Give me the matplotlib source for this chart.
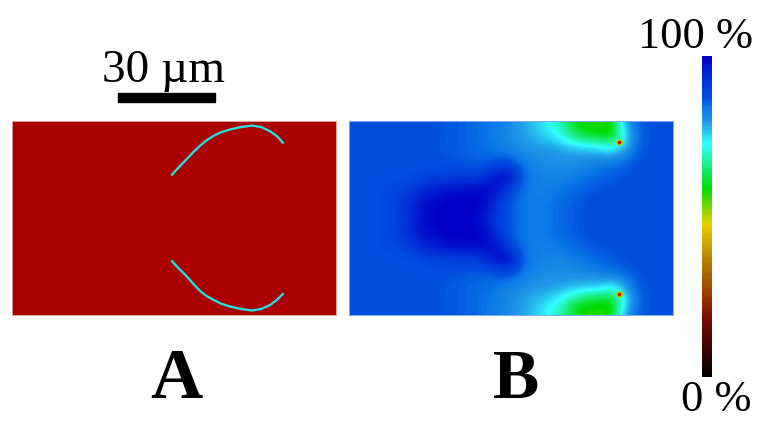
import matplotlib
matplotlib.use("Agg")
import matplotlib.pyplot as plt
import numpy as np
from matplotlib.colors import LinearSegmentedColormap
from matplotlib.patches import Rectangle

W, H = 757, 421

# crack paths in um (panel is 100 x 60 um)
crack_x = [49.4, 51.5, 54.0, 56.0, 58.1, 60.0, 62.2, 64.5, 67.4, 70.5, 74.1, 77.0, 79.7, 81.8, 83.6]
crack_top = [16.6, 14.3, 11.7, 9.6, 7.6, 6.0, 4.6, 3.5, 2.6, 1.9, 1.4, 1.9, 3.2, 4.7, 6.7]
crack_bottom = [43.4, 45.6, 48.1, 50.4, 52.6, 54.1, 55.3, 56.5, 57.4, 58.1, 58.6, 58.1, 56.9, 55.3, 53.5]

# damage field, top half of panel B in percent, bottom half is the mirror
field_top = [
    [87, 87, 87, 87, 87, 87, 87, 87, 86, 86, 85, 84, 83, 81, 79, 76, 72, 68, 60, 57, 57, 57, 78, 85, 87, 87, 87],
    [87, 87, 87, 87, 87, 87, 87, 87, 86, 86, 85, 84, 83, 81, 79, 77, 75, 71, 64, 60, 59, 57, 70, 84, 87, 87, 87],
    [87, 87, 87, 87, 87, 87, 87, 87, 86, 86, 85, 85, 83, 82, 81, 80, 80, 79, 78, 77, 76, 73, 77, 85, 87, 87, 87],
    [87, 87, 87, 87, 87, 87, 87, 87, 87, 86, 86, 85, 87, 87, 83, 82, 81, 81, 81, 82, 83, 84, 85, 87, 87, 87, 87],
    [87, 87, 87, 87, 87, 87, 88, 89, 89, 90, 90, 93, 99, 99, 85, 83, 82, 82, 83, 84, 85, 86, 87, 87, 87, 87, 87],
    [87, 87, 87, 88, 89, 91, 95, 97, 98, 99, 99, 99, 97, 87, 84, 83, 83, 84, 85, 86, 87, 87, 87, 87, 87, 87, 87],
    [87, 87, 87, 88, 90, 94, 98, 99, 100, 100, 100, 98, 91, 86, 84, 83, 84, 85, 86, 87, 87, 87, 87, 87, 87, 87, 87],
    [87, 87, 87, 88, 90, 94, 98, 100, 100, 100, 99, 96, 90, 86, 84, 83, 84, 85, 86, 87, 87, 87, 87, 87, 87, 87, 87],
]

# crack tips
tip_x = [83.4, 83.4]
tip_y = [6.5, 53.5]

cbar_pos = [0.0, 0.177, 0.26, 0.364, 0.477, 0.587, 0.727, 0.8, 0.84, 0.87, 0.93, 1.0]
cbar_rgb = ["#000000", "#780a00", "#a03c00", "#b48200", "#e6d200", "#00dc00", "#32ffff", "#1e96e6",
            "#0a78e6", "#0050e0", "#0030d8", "#0000c8"]
cmap = LinearSegmentedColormap.from_list("damage", list(zip(cbar_pos, cbar_rgb)))

plt.rcParams["font.family"] = "Liberation Serif"
fig = plt.figure(figsize=(W / 100, H / 100), dpi=100)


def px_axes(x0, y0, x1, y1):
    return fig.add_axes([x0 / W, 1 - y1 / H, (x1 - x0) / W, (y1 - y0) / H])


def px_text(x, y, s, **kw):
    fig.text(x / W, 1 - y / H, s, ha="center", va="baseline", **kw)


field = np.array(field_top, dtype=float)
field = np.vstack([field, field[-2::-1]])
dx = 100 / (field.shape[1] - 1) / 2
dy = 60 / (field.shape[0] - 1) / 2

# panel A
axA = px_axes(12, 121, 336, 315)
axA.set_facecolor("#aa0000")
axA.plot(crack_x, crack_top, color="#20e0e0", lw=1.7)
axA.plot(crack_x, crack_bottom, color="#20e0e0", lw=1.7)
axA.add_patch(Rectangle((32.7, -8.7), 30, 2.8, color="black", clip_on=False))

# panel B
axB = px_axes(349, 121, 673, 315)
axB.imshow(field / 100, cmap=cmap, vmin=0, vmax=1, aspect="auto", interpolation="bicubic",
           extent=(-dx, 100 + dx, 60 + dy, -dy))
axB.scatter(tip_x, tip_y, s=26, color="#a0dc00", linewidths=0)
axB.scatter(tip_x, tip_y, s=7, color="#c01000", linewidths=0)

for ax, edge in ((axA, "#e0a0a0"), (axB, "#80a8f0")):
    ax.set_xlim(0, 100)
    ax.set_ylim(60, 0)
    ax.set_xticks([])
    ax.set_yticks([])
    for sp in ax.spines.values():
        sp.set_color(edge)
        sp.set_linewidth(0.7)

# colour bar
cax = px_axes(702, 56, 712, 377)
sm = plt.cm.ScalarMappable(cmap=cmap, norm=plt.Normalize(0, 100))
cb = fig.colorbar(sm, cax=cax)
cb.set_ticks([])
cb.outline.set_visible(False)

px_text(164, 82, "30 µm", fontsize=34)
px_text(176, 398, "A", fontsize=52, fontweight="bold")
px_text(516, 398, "B", fontsize=50, fontweight="bold")
px_text(695, 48, "100 %", fontsize=32)
px_text(716, 411, "0 %", fontsize=32)

fig.savefig("out.png", dpi=100)
